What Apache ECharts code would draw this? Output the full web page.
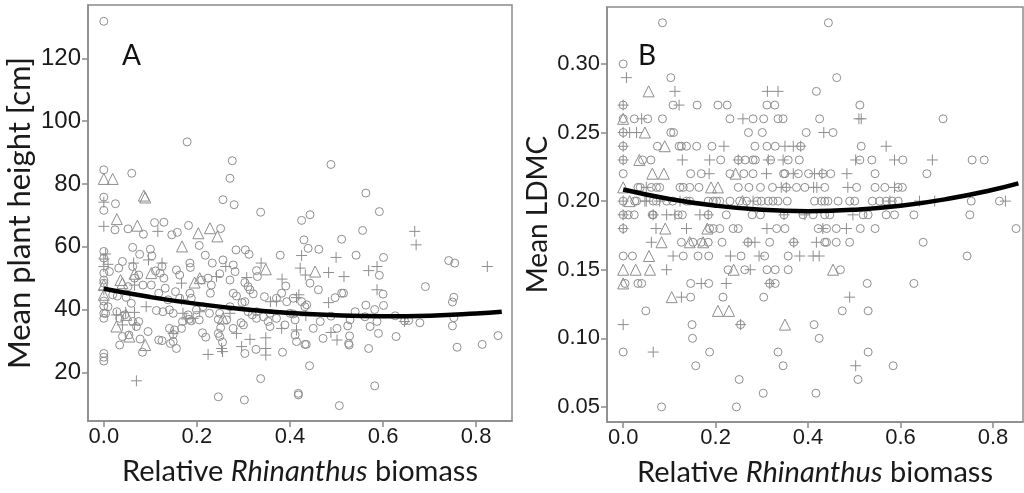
<!DOCTYPE html>
<html>
<head>
<meta charset="utf-8">
<script src="https://cdn.jsdelivr.net/npm/echarts@6/dist/echarts.min.js"></script>
<style>
  html, body { margin: 0; padding: 0; background: #fff; }
  #main { width: 1024px; height: 493px; }
</style>
</head>
<body>
<div id="main"></div>
<script>
// ---- panel A : mean plant height ----
var heightCircle = [
  [0,131.8],[0.179,93.4],[0.276,87.4],[0.488,86.2],[0,84.5],[0.060,83.4],[0.271,81.8],[0,75.8],[0.025,73.7],[0,71.6],
  [0.256,75],[0.280,73.4],[0.337,71],[0.563,77.1],[0.592,71.2],[0.443,70.2],[0.425,68.4],[0.024,65.4],[0.052,65.7],[0.085,64],
  [0.109,67.7],[0.129,67.8],[0.158,64.6],[0.146,63.8],[0.182,66.8],[0.251,65.8],[0.062,59.8],[0.100,59.2],[0.103,57.1],[0.077,57.6],
  [0.205,60.4],[0.218,57.3],[0.284,59],[0.304,59],[0.312,57.6],[0.430,62.2],[0.439,59.5],[0.462,59.2],[0.511,62.4],[0.556,65.2],
  [0.542,57.3],[0.379,57.3],[0.601,56.6],[0.741,55.6],[0.754,54.8],[0.592,50.9],[0.691,47.3],[0.752,43.9],[0.749,42.4],[0.752,37.4],
  [0.749,34.8],[0.600,44.9],[0.601,41.3],[0.563,41.4],[0.582,40],[0.561,37.7],[0.572,34.6],[0.587,36.2],[0.590,32.4],[0.569,27.6],
  [0.628,31.4],[0.626,38],[0.646,36.4],[0.655,36.5],[0.679,35.8],[0.759,28],[0.813,28.9],[0.847,31.7],[0.582,15.7],[0.506,9.4],
  [0.418,13.3],[0.418,12.8],[0.442,22.1],[0.337,18],[0.246,12.2],[0.302,11.2],[0,26],[0,24.8],[0,23.6],[0.384,26.4],
  [0.327,27.3],[0.303,26],[0.255,29.6],[0.251,34.2],[0.219,31.2],[0.212,32.6],[0.156,27.6],[0.125,30.1],[0.083,26.4],[0.078,30.6],
  [0.034,28.7],[0.040,31.4],[0.054,31.9],[0.149,32.1],[0.143,29.2],[0.414,29.8],[0.432,28.9],[0.411,31.9],[0.471,30.8],[0.526,29.2],
  [0.527,28.7],[0.528,31.6],[0.501,34],[0.524,34.8],[0.529,36.7],[0.540,39.3],[0.511,45.2],[0.515,45.2],[0.497,43.8],[0.488,37.9],
  [0.465,36.2],[0.450,34],[0.461,46.3],[0.443,48.4],[0.432,40.9],[0.435,28.9],[0.411,36.7],[0.407,38.6],[0.389,35.1],[0.393,42.5],
  [0.382,45.2],[0.391,47.5],[0.371,37.2],[0.353,36.2],[0.357,34.6],[0.357,38.8],[0.343,37.7],[0.328,37.2],[0.330,50.5],[0.328,52.4],
  [0.345,44.1],[0.321,45],[0.310,47.3],[0.297,42.2],[0.285,44.3],[0.278,45.2],[0.314,46.3],[0.303,42.5],[0.319,38.3],[0.295,35.8],
  [0.303,48.6],[0.282,52.1],[0.278,54.2],[0.256,55.8],[0.271,49.4],[0.249,51.4],[0.233,54.8],[0.224,50],[0.210,49.4],[0.231,47.8],
  [0.229,45.2],[0.185,54.8],[0.186,53.4],[0.185,45.2],[0.188,43.6],[0.181,38.3],[0.188,36.4],[0.183,36.9],[0.205,36.7],[0.199,39.9],
  [0.213,40.9],[0.227,38.8],[0.246,36.9],[0.264,36.7],[0.271,40.9],[0.249,38.8],[0.156,52.6],[0.163,51],[0.154,45.7],[0.163,43.6],
  [0.132,46.8],[0.121,51.6],[0.125,53.7],[0.129,50],[0.111,52.3],[0.102,47.8],[0.118,45.2],[0.113,39.7],[0.127,39.3],[0.141,39.9],
  [0.149,38.8],[0.138,43.1],[0.084,47.8],[0.075,51],[0.062,53.7],[0.066,50],[0.052,47.3],[0.040,55.3],[0.032,53.2],[0.012,52.1],
  [0.029,44.3],[0.048,43.9],[0.045,38.3],[0.028,39.3],[0.034,37.2],[0.059,42],[0.062,36.2],[0.019,44.7],[0.075,36.2],[0.095,33],
  [0.070,34.6],[0.141,34],[0.152,33.5],[0.169,36.2],[0.167,34],[0.149,29.8],[0.118,30.3],[0.246,32.4],[0.249,31.4],[0.278,34],
  [0.300,35.1],[0.310,39.3],[0.328,39.3],[0.371,43.6],[0.407,43.6],[0.425,42.5],[0.436,41.5],[0.400,38.8],[0,58.5],[0,56.4],
  [0,51.6],[0,49.4],[0,48.4],[0,42.7],[0,41.1],[0,38.8],[0,37.2],[0.004,38.8],[0.009,40.9]
];
var heightPlus = [
  [0,74.2],[0,66.5],[0,56.1],[0.004,57.7],[0.009,54.4],[0,53.7],[0,46.3],[0.064,54.8],[0.066,47.8],[0.066,39.1],
  [0.066,35.1],[0.070,17.3],[0.096,55.8],[0.091,40.9],[0.116,64.9],[0.125,54.8],[0.167,48.4],[0.170,38.8],[0.177,37],[0.192,37.2],
  [0.224,25.7],[0.206,39.3],[0.253,27.6],[0.255,26.6],[0.262,53.7],[0.271,38.8],[0.285,32.4],[0.296,28.2],[0.307,50.2],[0.314,30.5],
  [0.338,54.8],[0.348,31],[0.348,27.6],[0.348,25.5],[0.383,49.7],[0.425,57.2],[0.422,53.2],[0.414,43.8],[0.419,44.7],[0.433,51],
  [0.434,38],[0.414,33.5],[0.483,51.8],[0.499,56.6],[0.516,50.5],[0.488,32.7],[0.501,30.3],[0.483,42.2],[0.569,52.4],[0.587,53.7],
  [0.587,46.3],[0.668,64.9],[0.671,60.6],[0.824,53.7],[0.646,36.2],[0.027,38.3],[0.047,39.1],[0.040,35.1],[0.167,43.1],[0.242,50.5],
  [0.358,42.5],[0.371,42.7],[0.382,34],[0.149,32.4]
];
var heightTriangle = [
  [0,81.6],[0.019,81.6],[0.086,76.3],[0.089,75.7],[0.028,68.8],[0.072,66.7],[0.203,64.3],[0.228,65.9],[0.244,63.3],[0.168,60.1],
  [0.348,52.8],[0.454,52.1],[0.066,51.4],[0.040,48.4],[0,47.8],[0,44.7],[0.036,49.4],[0.195,48.6],[0.206,50],[0.102,51.6],
  [0.027,34.6],[0.055,31.4],[0.089,28.7],[0.048,38.3],[0.256,37.2]
];

// ---- panel B : mean LDMC ----
var ldmcCircle = [
  [0.085,0.33],[0.444,0.33],[0,0.30],[0.103,0.29],[0.462,0.29],[0.418,0.28],
  [0,0.27],[0.108,0.27],[0.160,0.27],[0.205,0.27],[0.225,0.27],[0.311,0.27],[0.328,0.27],[0.512,0.27],
  [0,0.26],[0.024,0.26],[0.053,0.26],[0.085,0.26],[0.231,0.26],[0.281,0.26],[0.304,0.26],[0.335,0.26],[0.346,0.26],[0.425,0.26],[0.692,0.26],
  [0,0.25],[0.103,0.25],[0.109,0.25],[0.271,0.25],[0.301,0.25],[0.396,0.25],[0.454,0.25],
  [0,0.24],[0.074,0.24],[0.121,0.24],[0.126,0.24],[0.137,0.24],[0.159,0.24],[0.192,0.24],[0.285,0.24],[0.311,0.24],[0.329,0.24],[0.384,0.24],[0.515,0.24],
  [0,0.23],[0.042,0.23],[0.060,0.23],[0.211,0.23],[0.249,0.23],[0.264,0.23],[0.281,0.23],[0.286,0.23],[0.319,0.23],[0.357,0.23],[0.381,0.23],[0.512,0.23],[0.538,0.23],[0.605,0.23],[0.755,0.23],[0.781,0.23],
  [0,0.22],[0.146,0.22],[0.169,0.22],[0.231,0.22],[0.261,0.22],[0.281,0.22],[0.347,0.22],[0.350,0.22],[0.379,0.22],[0.401,0.22],[0.432,0.22],[0.449,0.22],[0.545,0.22],[0.657,0.22],
  [0.032,0.21],[0.037,0.21],[0.061,0.21],[0.072,0.21],[0.079,0.21],[0.123,0.21],[0.130,0.21],[0.144,0.21],[0.164,0.21],[0.249,0.21],[0.272,0.21],[0.297,0.21],[0.323,0.21],[0.353,0.21],[0.375,0.21],[0.393,0.21],[0.436,0.21],[0.505,0.21],[0.545,0.21],[0.566,0.21],[0.595,0.21],[0.604,0.21],
  [0,0.20],[0.025,0.20],[0.029,0.20],[0.065,0.20],[0.072,0.20],[0.094,0.20],[0.107,0.20],[0.137,0.20],[0.144,0.20],[0.184,0.20],[0.195,0.20],[0.202,0.20],[0.209,0.20],[0.231,0.20],[0.252,0.20],[0.267,0.20],[0.290,0.20],[0.299,0.20],[0.314,0.20],[0.324,0.20],[0.335,0.20],[0.355,0.20],[0.414,0.20],[0.429,0.20],[0.436,0.20],[0.443,0.20],[0.465,0.20],[0.490,0.20],[0.501,0.20],[0.539,0.20],[0.555,0.20],[0.569,0.20],[0.582,0.20],[0.595,0.20],[0.753,0.20],[0.814,0.20],
  [0,0.19],[0.011,0.19],[0.024,0.19],[0.063,0.19],[0.065,0.19],[0.119,0.19],[0.128,0.19],[0.184,0.19],[0.223,0.19],[0.279,0.19],[0.297,0.19],[0.348,0.19],[0.389,0.19],[0.411,0.19],[0.436,0.19],[0.447,0.19],[0.519,0.19],[0.530,0.19],[0.569,0.19],[0.587,0.19],[0.629,0.19],[0.750,0.19],
  [0,0.18],[0.187,0.18],[0.195,0.18],[0.209,0.18],[0.238,0.18],[0.249,0.18],[0.332,0.18],[0.350,0.18],[0.422,0.18],[0.440,0.18],[0.461,0.18],[0.513,0.18],[0.545,0.18],[0.850,0.18],
  [0.126,0.17],[0.151,0.17],[0.169,0.17],[0.184,0.17],[0.214,0.17],[0.270,0.17],[0.317,0.17],[0.369,0.17],[0.436,0.17],[0.440,0.17],[0.461,0.17],[0.490,0.17],[0.649,0.17],
  [0,0.16],[0.020,0.16],[0.130,0.16],[0.162,0.16],[0.185,0.16],[0.255,0.16],[0.306,0.16],[0.357,0.16],[0.744,0.16],
  [0.227,0.15],[0.263,0.15],[0.311,0.15],[0.329,0.15],[0.357,0.15],[0.470,0.15],
  [0.004,0.14],[0.032,0.14],[0.040,0.14],[0.146,0.14],[0.185,0.14],[0.317,0.14],[0.329,0.14],[0.528,0.14],[0.629,0.14],
  [0.146,0.13],[0.216,0.13],[0.304,0.13],[0.049,0.12],[0.474,0.12],[0.530,0.12],[0.149,0.11],[0.254,0.11],[0.413,0.11],
  [0.150,0.10],[0.424,0.10],[0,0.09],[0.187,0.09],[0.335,0.09],[0.530,0.09],[0.157,0.08],[0.346,0.08],[0.584,0.08],
  [0.251,0.07],[0.508,0.07],[0.303,0.06],[0.417,0.06],[0.083,0.05],[0.245,0.05]
];
var ldmcPlus = [
  [0.007,0.29],[0.112,0.28],[0.312,0.28],[0.335,0.28],[0,0.27],[0.121,0.27],
  [0.040,0.26],[0.259,0.26],[0.510,0.26],[0.515,0.26],[0,0.25],[0.014,0.25],[0.029,0.25],[0.434,0.25],
  [0,0.24],[0.218,0.24],[0.350,0.24],[0.368,0.24],[0.384,0.24],[0.569,0.24],
  [0,0.23],[0.128,0.23],[0.187,0.23],[0.249,0.23],[0.314,0.23],[0.346,0.23],[0.503,0.23],[0.587,0.23],[0.669,0.23],
  [0.186,0.22],[0.310,0.22],[0.368,0.22],[0.414,0.22],[0.430,0.22],[0.484,0.22],
  [0.050,0.21],[0.342,0.21],[0.353,0.21],[0.412,0.21],[0.419,0.21],[0.486,0.21],[0.587,0.21],
  [0,0.20],[0.047,0.20],[0.050,0.20],[0.079,0.20],[0.123,0.20],[0.281,0.20],[0.577,0.20],[0.641,0.20],[0.674,0.20],[0.827,0.20],
  [0,0.19],[0.065,0.19],[0.094,0.19],[0.112,0.19],[0.166,0.19],[0.184,0.19],[0.348,0.19],[0.393,0.19],[0.497,0.19],
  [0,0.18],[0.071,0.18],[0.137,0.18],[0.311,0.18],[0.432,0.18],[0.483,0.18],
  [0.061,0.17],[0.270,0.17],[0.285,0.17],[0.369,0.17],[0.418,0.17],
  [0.108,0.16],[0.232,0.16],[0.294,0.16],[0.382,0.16],[0.411,0.16],[0.424,0.16],
  [0.094,0.15],[0.275,0.15],[0.169,0.14],[0.223,0.14],[0.317,0.14],[0.126,0.13],[0.490,0.13],
  [0,0.11],[0.254,0.11],[0.065,0.09],[0.503,0.08]
];
var ldmcTriangle = [
  [0.055,0.28],[0,0.26],[0.047,0.25],[0.090,0.24],[0.035,0.23],[0.063,0.22],[0.088,0.22],[0.243,0.22],
  [0,0.21],[0.190,0.21],[0.205,0.21],[0.014,0.20],[0.258,0.20],[0.091,0.18],[0.182,0.18],
  [0.083,0.17],[0.144,0.17],[0.173,0.17],[0.056,0.16],[0,0.15],[0.027,0.15],[0.058,0.15],[0.239,0.15],[0.454,0.15],
  [0,0.14],[0.105,0.13],[0.205,0.12],[0.229,0.12],[0.350,0.11]
];

// fitted curves
var fitX = [0, 0.1, 0.2, 0.3, 0.4, 0.5, 0.6, 0.7, 0.8, 0.855];
var fitHeight = [46.6, 43.97, 41.81, 40.12, 38.9, 38.15, 37.87, 38.06, 38.72, 39.28];
var fitLdmc = [0.2085, 0.2016, 0.1967, 0.1937, 0.1927, 0.1937, 0.1966, 0.2015, 0.2083, 0.2129];

var xTicks = [0, 0.2, 0.4, 0.6, 0.8];
var heightTicks = [20, 40, 60, 80, 100, 120];
var ldmcTicks = [0.05, 0.10, 0.15, 0.20, 0.25, 0.30];

var grey = '#8e8e8e';
var frame = '#8a8a8a';
var tickFont = '"Liberation Sans", Arial, sans-serif';
var nameFont = 'Lato, "Open Sans", sans-serif';

var pairs = function(xs, ys){
	var out = [];
	for (var i = 0; i < xs.length; i++) out.push([xs[i], ys[i]]);
	return out;
};

var xAxisFor = function(gi, min, max){
	return {
		type: 'value', gridIndex: gi, min: min, max: max,
		splitLine: {show: false},
		axisLine: {show: true, onZero: false, lineStyle: {color: frame, width: 1.5}},
		axisTick: {show: true, inside: false, length: 6, customValues: xTicks, lineStyle: {color: frame, width: 1.5}},
		axisLabel: {customValues: xTicks, margin: 5, fontSize: 22, color: '#1a1a1a', fontFamily: tickFont,
			formatter: function(v){ return v.toFixed(1); }},
		name: 'Relative {i|Rhinanthus} biomass',
		nameLocation: 'middle', nameGap: 36, nameMoveOverlap: false,
		nameTextStyle: {fontSize: 29, color: '#1a1a1a', fontFamily: nameFont,
			rich: {i: {fontSize: 29, fontStyle: 'italic', color: '#1a1a1a', fontFamily: nameFont}}}
	};
};
var yAxisFor = function(gi, min, max, ticks, digits, name, gap, nameSize, labelSize){
	return {
		type: 'value', gridIndex: gi, min: min, max: max,
		splitLine: {show: false},
		axisLine: {show: true, onZero: false, lineStyle: {color: frame, width: 1.5}},
		axisTick: {show: true, inside: false, length: 6, customValues: ticks, lineStyle: {color: frame, width: 1.5}},
		axisLabel: {customValues: ticks, margin: 7, fontSize: labelSize, color: '#1a1a1a', fontFamily: tickFont,
			formatter: function(v){ return v.toFixed(digits); }},
		name: name, nameLocation: 'middle', nameGap: gap, nameMoveOverlap: false,
		nameTextStyle: {fontSize: nameSize, color: '#1a1a1a', fontFamily: nameFont}
	};
};

var scatter = function(data, sym, size, xi){
	return {
		type: 'scatter', xAxisIndex: xi, yAxisIndex: xi, data: data,
		symbol: sym, symbolSize: size, silent: true,
		itemStyle: {color: 'rgba(0,0,0,0)', borderColor: grey, borderWidth: 1, opacity: 1}
	};
};
var plusSym = 'path://M5,0L5,10M0,5L10,5';

var option = {
	animation: false,
	backgroundColor: '#fff',
	grid: [
		{left: 88, top: 5, width: 424, height: 416, show: true, borderColor: frame, borderWidth: 1.5, backgroundColor: 'transparent'},
		{left: 607, top: 7, width: 416, height: 415, show: true, borderColor: frame, borderWidth: 1.5, backgroundColor: 'transparent'}
	],
	xAxis: [xAxisFor(0, -0.034, 0.877), xAxisFor(1, -0.035, 0.865)],
	yAxis: [
		yAxisFor(0, 4.5, 137, heightTicks, 0, 'Mean plant height [cm]', 53, 31, 24),
		yAxisFor(1, 0.039, 0.3415, ldmcTicks, 2, 'Mean LDMC', 55, 28, 22)
	],
	graphic: [
		{type: 'text', left: 122, top: 42, style: {text: 'A', fontSize: 28, fill: '#111', fontFamily: nameFont}},
		{type: 'text', left: 638, top: 42, style: {text: 'B', fontSize: 28, fill: '#111', fontFamily: nameFont}}
	],
	series: [
		scatter(heightCircle, 'circle', 8, 0),
		scatter(heightPlus, plusSym, 11, 0),
		scatter(heightTriangle, 'triangle', 11, 0),
		{type: 'line', xAxisIndex: 0, yAxisIndex: 0, data: pairs(fitX, fitHeight), smooth: true,
			symbol: 'none', lineStyle: {color: '#000', width: 4.5}, silent: true, z: 5},
		scatter(ldmcCircle, 'circle', 8, 1),
		scatter(ldmcPlus, plusSym, 11, 1),
		scatter(ldmcTriangle, 'triangle', 11, 1),
		{type: 'line', xAxisIndex: 1, yAxisIndex: 1, data: pairs(fitX, fitLdmc), smooth: true,
			symbol: 'none', lineStyle: {color: '#000', width: 4.5}, silent: true, z: 5}
	]
};

echarts.init(document.getElementById('main')).setOption(option);
</script>
</body>
</html>
